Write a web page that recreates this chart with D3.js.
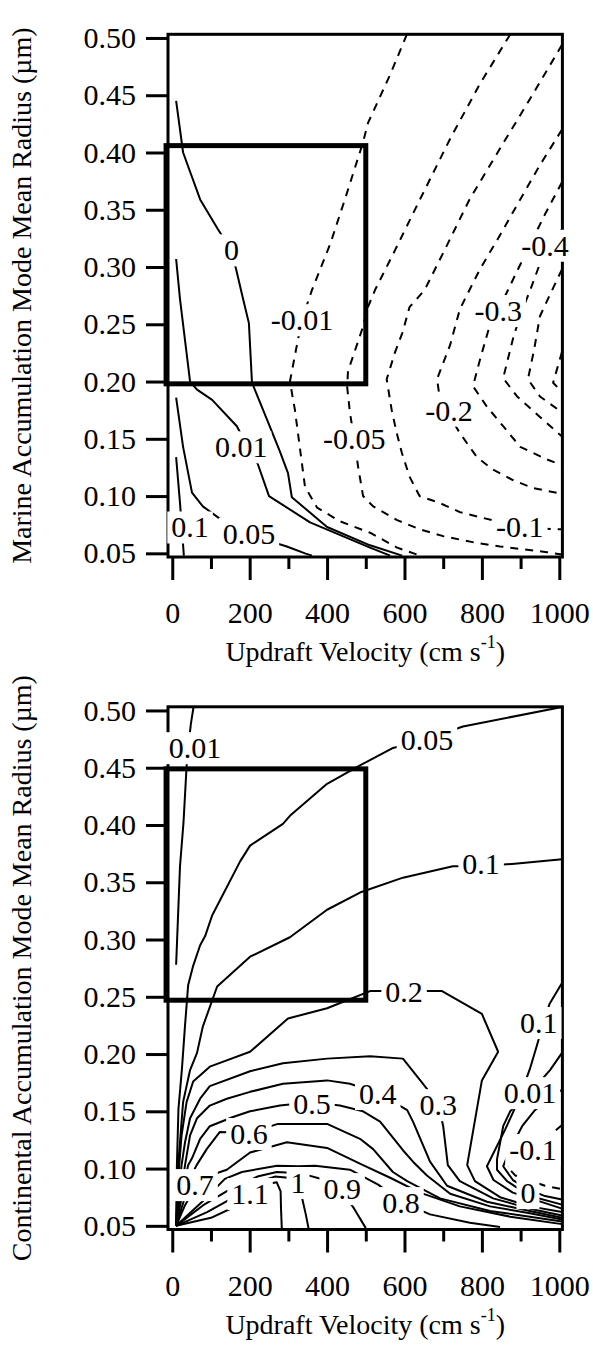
<!DOCTYPE html>
<html><head><meta charset="utf-8">
<script src="https://cdn.jsdelivr.net/npm/d3@7"></script>
<style>
body{margin:0;background:#fff}
svg{display:block}
</style>
</head><body>
<svg id="c" width="593" height="1346" font-family="Liberation Serif"></svg>
<script>
// ---------- axes data ----------
const velTicks = [0,200,400,600,800,1000];
const velMinorTicks = [100,300,500,700,900];
const radTicks = [0.05,0.10,0.15,0.20,0.25,0.30,0.35,0.40,0.45,0.50];
const velDomain = [-11,1008];
const radDomain = [0.0468,0.5032];

// ---------- marine panel contours [velocity, radius] ----------
const marineP010 = [[10,0.134],[20,0.094],[25,0.071],[30,0.048]];
const marineP005 = [[10,0.186],[28,0.143],[51,0.103],[79,0.091],[128,0.079],[201,0.066],[296,0.056],[343,0.050],[361,0.048]];
const marineP001 = [[10,0.307],[20,0.272],[46,0.200],[64,0.193],[103,0.184],[167,0.161],[193,0.144],[221,0.128],[250,0.100],[356,0.077],[511,0.055],[563,0.048]];
const marineZero = [[10,0.445],[28,0.400],[72,0.359],[118,0.333],[152,0.315],[165,0.298],[183,0.272],[198,0.251],[206,0.199],[253,0.160],[278,0.139],[299,0.120],[309,0.099],[400,0.073],[511,0.057],[594,0.048]];
const marineM001 = [[606,0.503],[563,0.468],[506,0.426],[493,0.409],[446,0.359],[408,0.320],[361,0.280],[335,0.254],[325,0.237],[304,0.200],[317,0.175],[343,0.108],[374,0.090],[433,0.078],[511,0.068],[581,0.055],[640,0.048]];
const marineM005 = [[873,0.503],[795,0.460],[718,0.412],[640,0.359],[576,0.315],[524,0.280],[503,0.263],[493,0.248],[454,0.209],[452,0.195],[459,0.173],[470,0.150],[480,0.126],[493,0.100],[519,0.091],[581,0.079],[640,0.071],[700,0.065],[787,0.059],[847,0.056],[968,0.051],[1007,0.049]];
const marineM010 = [[1007,0.494],[923,0.446],[846,0.403],[768,0.359],[704,0.315],[652,0.280],[613,0.265],[595,0.243],[575,0.225],[554,0.202],[567,0.175],[580,0.155],[593,0.138],[613,0.117],[639,0.100],[691,0.094],[743,0.086],[802,0.081],[898,0.073],[993,0.071],[1007,0.071]];
const marineM020 = [[1007,0.420],[950,0.389],[899,0.359],[847,0.328],[795,0.298],[756,0.272],[743,0.263],[718,0.232],[684,0.202],[692,0.184],[715,0.171],[743,0.155],[787,0.134],[829,0.123],[880,0.114],[932,0.107],[1007,0.102]];
const marineM030 = [[1007,0.374],[963,0.346],[925,0.320],[886,0.293],[842,0.262],[816,0.244],[795,0.219],[777,0.196],[813,0.178],[855,0.161],[899,0.143],[968,0.132],[1007,0.127]];
const marineM040 = [[1007,0.333],[963,0.315],[925,0.280],[899,0.258],[880,0.237],[855,0.203],[891,0.187],[950,0.169],[1007,0.152]];
const marineM050 = [[1007,0.298],[976,0.276],[950,0.257],[935,0.228],[919,0.202],[950,0.187],[1007,0.173]];
const marineM060 = [[1007,0.226],[984,0.199],[1007,0.191]];

const marineLevels = [0.1,0.05,0.01,0,-0.01,-0.05,-0.1,-0.2,-0.3,-0.4,-0.5,-0.6];
const marineCurves = [marineP010,marineP005,marineP001,marineZero,marineM001,marineM005,marineM010,marineM020,marineM030,marineM040,marineM050,marineM060];

const marineLabelText = ["0.1","0.05","0.01","0","-0.01","-0.05","-0.1","-0.2","-0.3","-0.4"];
const marineLabelVel  = [46,198,178,153,335,470,898,715,842,963];
const marineLabelRad  = [0.073,0.0675,0.143,0.315,0.254,0.150,0.073,0.175,0.262,0.319];

const marineBoxVel = [-16,500];
const marineBoxRad = [0.198,0.406];

// ---------- continental panel contours ----------
const contP001 = [[55,0.503],[48,0.488],[38,0.457],[29,0.402],[20,0.364],[10,0.278]];
const contP005 = [[1007,0.503],[751,0.486],[658,0.475],[568,0.467],[485,0.452],[400,0.436],[304,0.408],[286,0.401],[201,0.382],[175,0.368],[103,0.321],[85,0.303],[72,0.295],[54,0.277],[41,0.260],[33,0.225],[25,0.187],[16,0.152],[12,0.103],[10,0.05]];
const contP010 = [[1007,0.370],[878,0.366],[798,0.364],[725,0.364],[596,0.354],[485,0.341],[400,0.326],[304,0.302],[201,0.285],[116,0.259],[79,0.224],[64,0.201],[46,0.186],[28,0.158],[20,0.123],[15,0.102],[10,0.05]];
const contP020 = [[10,0.05],[18,0.103],[24,0.129],[37,0.158],[54,0.176],[97,0.189],[201,0.202],[299,0.231],[400,0.240],[511,0.255],[599,0.255],[697,0.255],[800,0.235],[842,0.202],[800,0.177],[762,0.103],[782,0.089],[847,0.075],[924,0.067],[1007,0.062]];
const contP030 = [[10,0.05],[24,0.103],[33,0.123],[46,0.144],[72,0.161],[97,0.172],[201,0.185],[286,0.192],[400,0.196],[511,0.198],[596,0.196],[648,0.174],[687,0.157],[700,0.137],[712,0.103],[743,0.089],[829,0.074],[924,0.065],[1007,0.059]];
const contP040 = [[10,0.05],[33,0.103],[46,0.129],[64,0.144],[97,0.155],[141,0.161],[201,0.167],[286,0.174],[400,0.177],[459,0.174],[532,0.166],[607,0.151],[622,0.141],[666,0.106],[710,0.085],[813,0.071],[924,0.063],[1007,0.057]];
const contP050 = [[10,0.05],[41,0.103],[51,0.109],[72,0.126],[97,0.137],[157,0.145],[201,0.150],[278,0.155],[361,0.158],[433,0.155],[493,0.150],[537,0.141],[596,0.116],[622,0.106],[658,0.094],[718,0.078],[821,0.067],[924,0.061],[1007,0.0555]];
const contP060 = [[10,0.05],[51,0.095],[63,0.103],[89,0.117],[123,0.132],[198,0.131],[273,0.139],[400,0.139],[485,0.126],[519,0.117],[570,0.097],[607,0.089],[692,0.074],[821,0.063],[924,0.058],[1007,0.0537]];
const contP070 = [[10,0.05],[33,0.068],[59,0.083],[97,0.094],[141,0.099],[201,0.114],[296,0.123],[400,0.118],[493,0.103],[563,0.092],[640,0.079],[743,0.067],[873,0.058],[1007,0.0515]];
const contP080 = [[10,0.05],[85,0.0735],[136,0.091],[180,0.097],[271,0.1025],[325,0.102],[369,0.1025],[459,0.099],[532,0.086],[591,0.071],[666,0.060],[769,0.0527],[847,0.049]];
const contP090 = [[10,0.05],[80,0.068],[150,0.082],[220,0.093],[270,0.097],[330,0.096],[395,0.090],[439,0.080],[470,0.065],[500,0.048]];
const contP100 = [[10,0.05],[90,0.062],[160,0.075],[220,0.088],[265,0.093],[300,0.092],[325,0.088],[335,0.075],[345,0.060],[352,0.048]];
const contP110 = [[10,0.05],[100,0.057],[170,0.068],[201,0.078],[240,0.086],[270,0.088],[280,0.080],[281,0.065],[283,0.048]];
const contR010 = [[1007,0.262],[975,0.244],[958,0.226],[940,0.205],[924,0.187],[895,0.160],[860,0.134],[813,0.102],[830,0.090],[880,0.079],[1007,0.065]];
const contR001 = [[1007,0.201],[976,0.186],[924,0.166],[873,0.150],[855,0.137],[839,0.108],[839,0.099],[865,0.089],[924,0.076],[1007,0.0685]];
const contRZero = [[1007,0.169],[937,0.151],[904,0.137],[873,0.117],[855,0.102],[880,0.090],[919,0.082],[963,0.076],[1007,0.073]];
const contRM010 = [[1007,0.138],[932,0.117],[886,0.108],[865,0.102],[886,0.094],[963,0.085],[1007,0.082]];

const contLevels = [0.01,0.05,0.1,0.2,0.3,0.4,0.5,0.6,0.7,0.8,0.9,1,1.1,0.1,0.01,0,-0.1];
const contCurves = [contP001,contP005,contP010,contP020,contP030,contP040,contP050,contP060,contP070,contP080,contP090,contP100,contP110,contR010,contR001,contRZero,contRM010];

const contLabelText = ["0.01","0.05","0.1","0.2","0.3","0.4","0.5","0.6","0.7","0.8","0.9","1","1.1","0.1","0.01","-0.1","0"];
const contLabelVel  = [59,658,798,599,687,531,361,198,59,591,439,325,201,947,924,932,919];
const contLabelRad  = [0.4675,0.4745,0.3663,0.2545,0.1558,0.1655,0.1567,0.1306,0.086,0.0703,0.0825,0.0878,0.0782,0.2275,0.1663,0.1166,0.079];

const contBoxVel = [-16,500];
const contBoxRad = [0.247,0.449];

// ---------- drawing ----------
const FONT = "'Liberation Serif', 'Times New Roman', Times, serif";
const svg = d3.select("#c");
const x = d3.scaleLinear().domain(velDomain).range([168,562.4]);

function drawPanel(off, levels, curves, lText, lVel, lRad, boxVel, boxRad, yTitle){
  const y = d3.scaleLinear().domain(radDomain).range([557+off, 34.3+off]);
  const g = svg.append("g");
  const line = d3.line().x(d=>x(d[0])).y(d=>y(d[1]));
  const data = curves.map((c,i)=>({level:levels[i], pts:c}));
  g.append("g").selectAll("path").data(data).join("path")
    .attr("d", d=>line(d.pts))
    .attr("fill","none").attr("stroke","#000").attr("stroke-width",2)
    .attr("stroke-linejoin","round")
    .attr("stroke-dasharray", d=>d.level<0 ? "8,7" : null);

  // highlighted box
  g.append("rect")
    .attr("x",x(boxVel[0])).attr("y",y(boxRad[1]))
    .attr("width",x(boxVel[1])-x(boxVel[0])).attr("height",y(boxRad[0])-y(boxRad[1]))
    .attr("fill","none").attr("stroke","#000").attr("stroke-width",5);

  // frame
  g.append("rect")
    .attr("x",x(velDomain[0])).attr("y",y(radDomain[1]))
    .attr("width",x(velDomain[1])-x(velDomain[0])).attr("height",y(radDomain[0])-y(radDomain[1]))
    .attr("fill","none").attr("stroke","#000").attr("stroke-width",3);

  // y axis
  const ya = g.append("g").attr("transform",`translate(${x(velDomain[0])},0)`)
    .call(d3.axisLeft(y).tickValues(radTicks).tickFormat(d3.format(".2f")).tickSize(22).tickPadding(10));
  ya.select(".domain").remove();
  ya.selectAll("line").attr("stroke-width",3);
  ya.attr("font-size",30).attr("font-family",FONT);
  ya.selectAll("text").style("font-family",FONT);

  // x axis
  const yb = y(radDomain[0]);
  const xa = g.append("g").attr("transform",`translate(0,${yb})`)
    .call(d3.axisBottom(x).tickValues(velTicks).tickFormat(d3.format("d")).tickSize(23).tickPadding(22));
  xa.select(".domain").remove();
  xa.selectAll("line").attr("stroke-width",3);
  xa.attr("font-size",30).attr("font-family",FONT);
  xa.selectAll("text").style("font-family",FONT);
  const xm = g.append("g").attr("transform",`translate(0,${yb})`)
    .call(d3.axisBottom(x).tickValues(velMinorTicks).tickFormat("").tickSize(12));
  xm.select(".domain").remove();
  xm.selectAll("line").attr("stroke-width",3);

  // titles
  const cy = (y(radDomain[0])+y(radDomain[1]))/2;
  g.append("text").attr("transform",`translate(31,${cy}) rotate(-90)`)
    .style("font-family",FONT)
    .attr("text-anchor","middle").attr("font-size",28).text(yTitle);
  const xt = g.append("text").attr("x",(x(velDomain[0])+x(velDomain[1]))/2).attr("y",661+off)
    .style("font-family",FONT)
    .attr("text-anchor","middle").attr("font-size",28);
  xt.append("tspan").text("Updraft Velocity (cm s");
  xt.append("tspan").attr("font-size",18).attr("dy",-13).text("-1");
  xt.append("tspan").attr("dy",13).text(")");

  // contour labels with white background
  const lg = g.append("g");
  lText.forEach((s,i)=>{
    const t = lg.append("text").attr("x",x(lVel[i])).attr("y",y(lRad[i]))
      .style("font-family",FONT)
      .attr("text-anchor","middle").attr("dominant-baseline","central")
      .attr("font-size",30).text(s);
    const bb = t.node().getBBox();
    lg.insert("rect", ()=>t.node())
      .attr("x",bb.x-4).attr("y",bb.y+1).attr("width",bb.width+8).attr("height",bb.height-1)
      .attr("fill","#fff");
  });
}

drawPanel(0, marineLevels, marineCurves, marineLabelText, marineLabelVel, marineLabelRad,
  marineBoxVel, marineBoxRad, "Marine Accumulation Mode Mean Radius (\u00b5m)");
drawPanel(672.5, contLevels, contCurves, contLabelText, contLabelVel, contLabelRad,
  contBoxVel, contBoxRad, "Continental Accumulation Mode Mean Radius (\u00b5m)");
</script>
</body></html>
